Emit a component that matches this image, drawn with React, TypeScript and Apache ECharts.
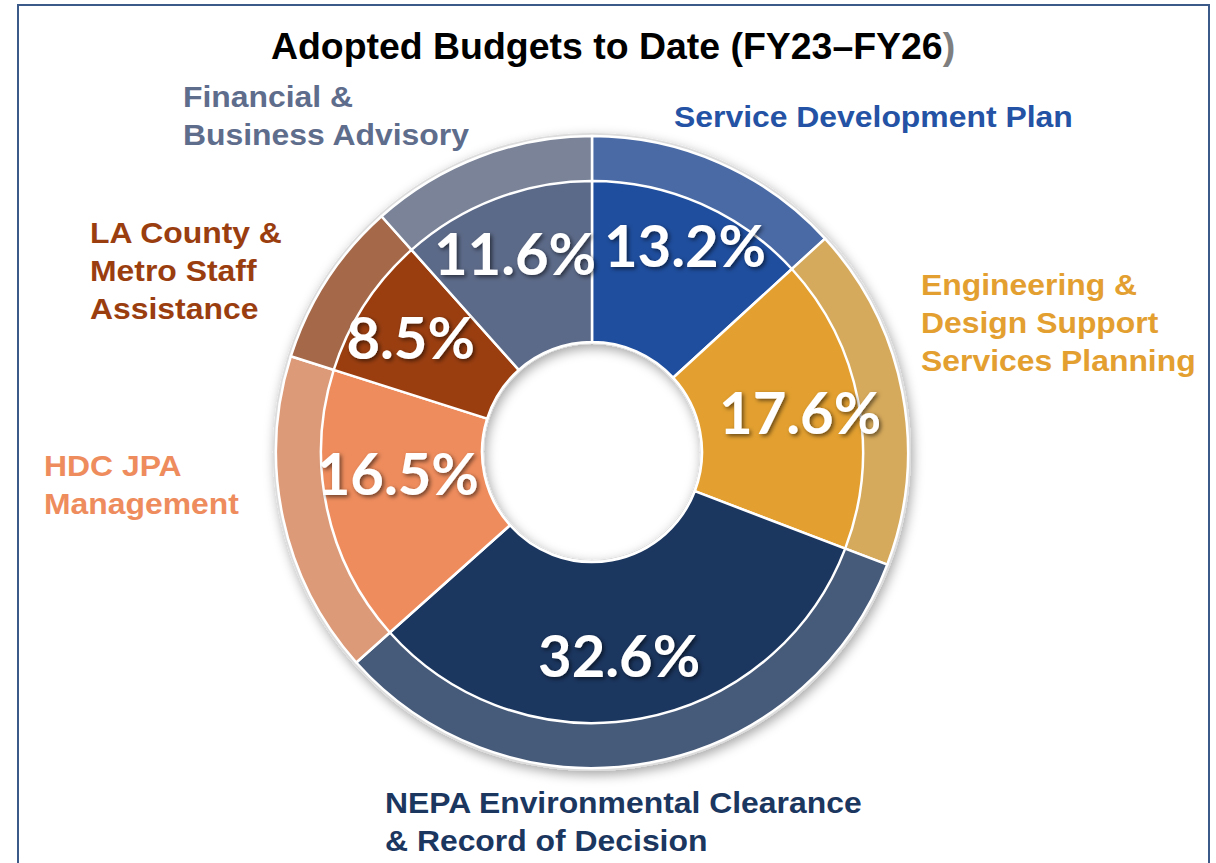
import React, { useEffect, useRef } from "react";
import * as echarts from "echarts";

const categories = [
  "Service Development Plan",
  "Engineering & Design Support Services Planning",
  "NEPA Environmental Clearance & Record of Decision",
  "HDC JPA Management",
  "LA County & Metro Staff Assistance",
  "Financial & Business Advisory",
];
const shares = [13.2, 17.6, 32.6, 16.5, 8.5, 11.6];
const innerColors = ["#1F4E9E", "#E3A030", "#1B365F", "#EE8C5D", "#9A3E10", "#5C6A89"];
const outerColors = ["#4A6AA5", "#D6AA5C", "#465A7A", "#DC9A78", "#A5694A", "#7A8398"];
const labelLines = [
  ["Service Development Plan"],
  ["Engineering &", "Design Support", "Services Planning"],
  ["NEPA Environmental Clearance", "& Record of Decision"],
  ["HDC JPA", "Management"],
  ["LA County &", "Metro Staff", "Assistance"],
  ["Financial &", "Business Advisory"],
];
const labelColors = ["#2452A4", "#E3A030", "#1B365F", "#EE8C5D", "#9A3E10", "#5F6D8C"];
const labelPos = [
  [674, 98],
  [921, 266],
  [385, 784],
  [44, 447],
  [90, 214],
  [183, 78],
];
const pctOffsets = [
  [6, -10],
  [-4, 0],
  [-12, -10],
  [17, -25],
  [0, 2],
  [0, 2],
];

export default function App() {
  const ref = useRef<HTMLDivElement>(null);
  useEffect(() => {
    if (!ref.current) return;
    const chart = echarts.init(ref.current, undefined, { renderer: "svg" });
    const center = [592, 452];
    const option: any = {
      animation: false,
      backgroundColor: "#ffffff",
      graphic: [
        {
          type: "rect",
          shape: { x: 18, y: 5, width: 1191, height: 880 },
          style: { fill: "none", stroke: "#3B5A8A", lineWidth: 2 },
          z: 0,
        },
        {
          type: "text",
          x: 613,
          y: 47,
          scaleX: 1.04,
          style: {
            text: "{a|Adopted Budgets to Date (FY23–FY26}{b|)}",
            textAlign: "center",
            textVerticalAlign: "middle",
            rich: {
              a: { fontFamily: "Liberation Sans Narrow, Liberation Sans, Arial", fontWeight: "bold", fontSize: 36, fill: "#000000" },
              b: { fontFamily: "Liberation Sans Narrow, Liberation Sans, Arial", fontWeight: "bold", fontSize: 36, fill: "#7F7F7F" },
            },
          },
        },
        ...labelLines.map((lines, i) => ({
          type: "text",
          x: labelPos[i][0],
          y: labelPos[i][1],
          scaleX: 1.1,
          style: {
            text: lines.join("\n"),
            fontFamily: "Liberation Sans, Arial",
            fontWeight: "bold",
            fontSize: 29,
            lineHeight: 38,
            fill: labelColors[i],
            textAlign: "left",
            textVerticalAlign: "top",
          },
        })),
      ],
      series: [
        {
          type: "pie",
          z: 1,
          center,
          radius: [108, 319],
          silent: true,
          startAngle: 90,
          label: { show: false },
          labelLine: { show: false },
          itemStyle: {
            color: "#DCDCDC",
            shadowBlur: 12,
            shadowColor: "rgba(0,0,0,0.35)",
            shadowOffsetX: 2,
            shadowOffsetY: 4,
          },
          data: [{ value: 1, name: "rim" }],
        },
        {
          type: "pie",
          z: 2,
          center,
          radius: [110, 316],
          startAngle: 90,
          clockwise: true,
          silent: true,
          label: { show: false },
          labelLine: { show: false },
          itemStyle: { borderColor: "#ffffff", borderWidth: 2.5 },
          data: categories.map((c, i) => ({ name: c, value: shares[i], itemStyle: { color: outerColors[i] } })),
        },
        {
          type: "pie",
          z: 3,
          center,
          radius: [110, 271],
          startAngle: 90,
          clockwise: true,
          silent: true,
          label: { show: false },
          labelLine: { show: false },
          itemStyle: { borderColor: "#ffffff", borderWidth: 2.5 },
          data: categories.map((c, i) => ({ name: c, value: shares[i], itemStyle: { color: innerColors[i] } })),
        },
        {
          type: "pie",
          z: 4,
          center,
          radius: [110, 316],
          startAngle: 90,
          clockwise: true,
          silent: true,
          itemStyle: { color: "rgba(0,0,0,0)", borderWidth: 0 },
          labelLine: { show: false },
          label: {
            show: true,
            position: "inside",
            formatter: (p: any) => p.value.toFixed(1) + "%",
            fontFamily: "Lato, Calibri, sans-serif",
            fontWeight: "bold",
            fontSize: 58,
            color: "#ffffff",
            textShadowColor: "rgba(0,0,0,0.55)",
            textShadowBlur: 4,
            textShadowOffsetX: 2,
            textShadowOffsetY: 2,
          },
          data: categories.map((c, i) => ({
            name: c,
            value: shares[i],
            label: { offset: pctOffsets[i] },
          })),
        },
      ],
    };
    chart.setOption(option);
    return () => chart.dispose();
  }, []);
  return (
    <div
      ref={ref}
      style={{ position: "fixed", left: 0, top: 0, width: 1216, height: 863 }}
    />
  );
}
